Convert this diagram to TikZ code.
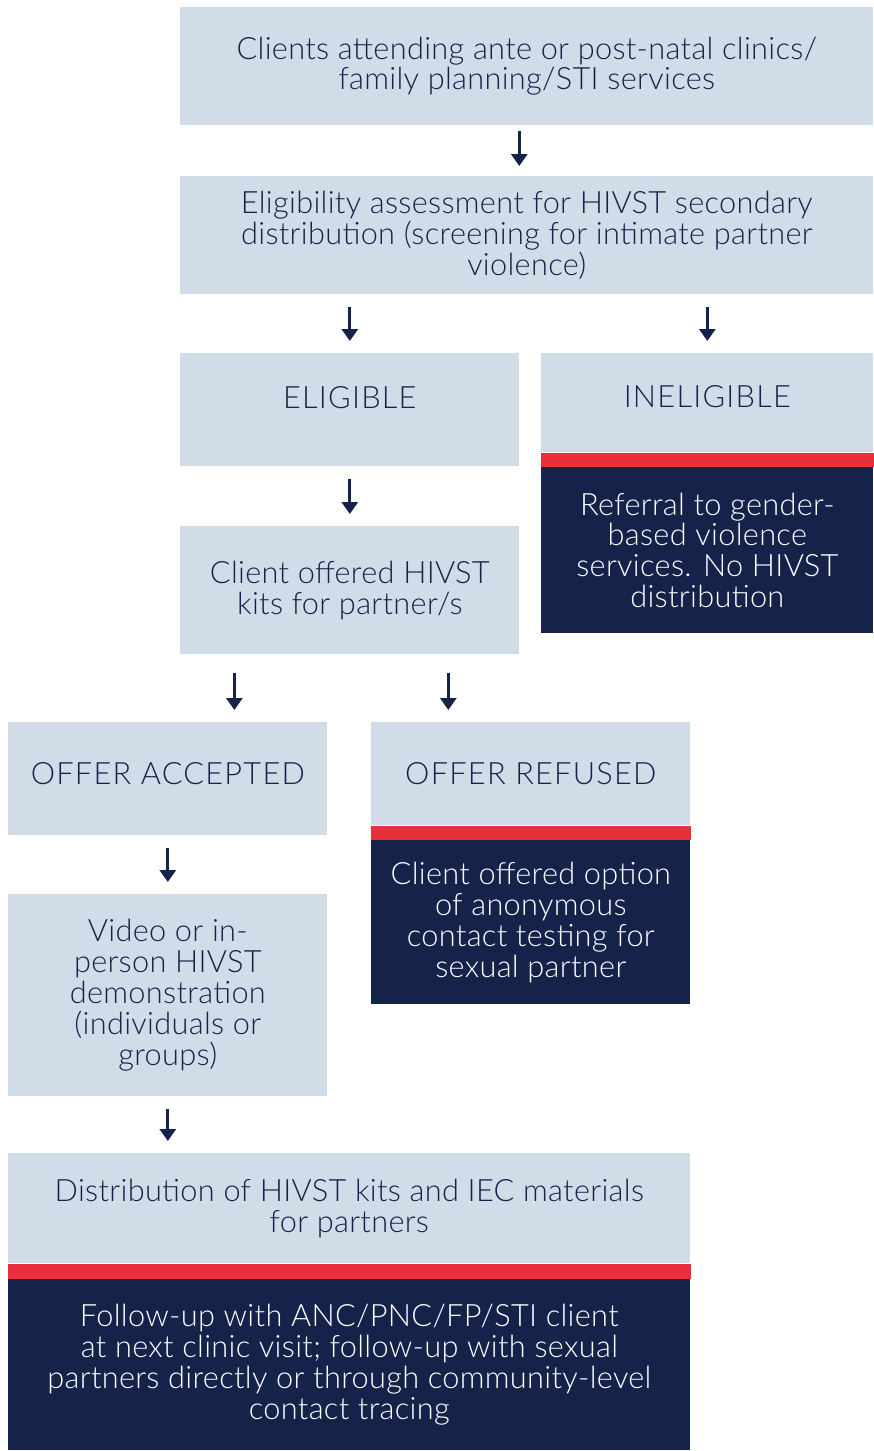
\documentclass[tikz,border=0pt]{standalone}
\usepackage{fontspec}
\setmainfont{Lato Light}[LetterSpace=1]
\usetikzlibrary{arrows.meta,calc}
\definecolor{boxblue}{HTML}{D0DCE8}
\definecolor{navy}{HTML}{15234B}
\definecolor{barred}{HTML}{E8303D}
\tikzset{
  lightbox/.style={fill=boxblue, text=navy, anchor=north west, align=center, inner sep=0pt,
    font=\fontsize{17.5}{17.6}\selectfont},
  darkbox/.style={fill=navy, text=white, anchor=north west, align=center, inner sep=0pt,
    font=\fontsize{17.5}{17.6}\selectfont},
  arr/.style={-{Triangle[width=0.32cm,length=0.24cm]}, navy, line width=1.7pt,
    shorten <=0.24cm, shorten >=0.24cm}
}
\newcommand{\spaced}[1]{{\addfontfeature{LetterSpace=4}#1}}
\begin{document}
\begin{tikzpicture}[x=0.02cm,y=-0.02cm]
  \useasboundingbox (0,0) rectangle (873,1451);
  % top of the chart
  \node[lightbox, minimum width=13.86cm, minimum height=2.36cm, text depth=0.12cm] (clients) at (180,7)
    {Clients attending ante or post-natal clinics/\\family planning/STI services};
  \node[lightbox, minimum width=13.86cm, minimum height=2.36cm] (assess) at (180,176)
    {Eligibility assessment for HIVST secondary\\distribution (screening for intimate partner\\violence)};
  % eligible / ineligible
  \node[lightbox, minimum width=6.78cm, minimum height=2.26cm, text depth=0.5cm] (eligible) at (180,353)
    {\spaced{ELIGIBLE}};
  \node[lightbox, minimum width=6.64cm, minimum height=1.98cm, text depth=0.24cm] (inelig) at (541,353)
    {\spaced{INELIGIBLE}};
  \node[darkbox, minimum width=6.64cm, minimum height=3.32cm] (referral) at (541,467)
    {Referral to gender-\\based violence\\services. No HIVST\\distribution};
  \fill[barred] (inelig.south west) rectangle (referral.north east);
  \node[lightbox, minimum width=6.78cm, minimum height=2.56cm] (offer) at (180,526)
    {Client offered HIVST\\kits for partner/s};
  % accepted / refused
  \node[lightbox, minimum width=6.38cm, minimum height=2.26cm, text depth=0.2cm] (accepted) at (8,722)
    {\spaced{OFFER ACCEPTED}};
  \node[lightbox, minimum width=6.38cm, minimum height=2.06cm] (refused) at (371,722)
    {\spaced{OFFER REFUSED}};
  \node[darkbox, minimum width=6.38cm, minimum height=3.28cm] (anon) at (371,840)
    {Client offered option\\of anonymous\\contact testing for\\sexual partner};
  \fill[barred] (refused.south west) rectangle (anon.north east);
  \node[lightbox, minimum width=6.38cm, minimum height=4.04cm] (video) at (8,894)
    {Video or in-\\person HIVST\\demonstration\\(individuals or\\groups)};
  % distribution and follow-up
  \node[lightbox, minimum width=13.64cm, minimum height=2.2cm] (distrib) at (8,1153)
    {Distribution of HIVST kits and IEC materials\\for partners};
  \node[darkbox, minimum width=13.64cm, minimum height=3.42cm] (followup) at (8,1279)
    {Follow-up with ANC/PNC/FP/STI client\\at next clinic visit; follow-up with sexual\\partners directly or through community-level\\contact tracing};
  \fill[barred] (distrib.south west) rectangle (followup.north east);
  % arrows
  \draw[arr, shorten <=0.1cm, shorten >=0.2cm] ([xshift=-0.15cm]clients.south) -- ([xshift=-0.15cm]assess.north);
  \draw[arr] (assess.south -| eligible.north) -- (eligible.north);
  \draw[arr] (assess.south -| inelig.north) -- (inelig.north);
  \draw[arr] (eligible.south) -- (offer.north);
  \coordinate (oa) at ($(offer.south west)!0.16!(offer.south east)$);
  \coordinate (or) at ($(offer.south west)!0.79!(offer.south east)$);
  \draw[arr, shorten <=0.36cm] (oa) -- (oa |- accepted.north);
  \draw[arr, shorten <=0.36cm] (or) -- (or |- refused.north);
  \draw[arr] (accepted.south) -- (video.north);
  \draw[arr] (video.south) -- (video.south |- distrib.north);
\end{tikzpicture}
\end{document}
